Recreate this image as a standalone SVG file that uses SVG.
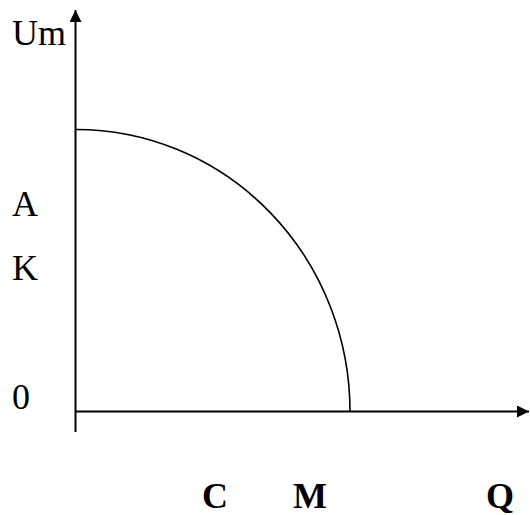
<svg xmlns="http://www.w3.org/2000/svg" width="530" height="515" viewBox="0 0 530 515">
<style>
text{font-family:'Liberation Serif','DejaVu Serif','Times New Roman',serif;font-size:36px;fill:#000}
.b{font-weight:bold}
.ax{stroke:#000;stroke-width:2;fill:none}
</style>
<defs>
<marker id="ah" viewBox="0 0 12 12" refX="12" refY="6" markerWidth="12" markerHeight="12" markerUnits="userSpaceOnUse" orient="auto">
<path d="M0,0 L12,6 L0,12 Z" fill="#000"/>
</marker>
</defs>
<g id="connectors">
<line class="ax" x1="75.5" y1="432" x2="75.5" y2="10" marker-end="url(#ah)"/>
<line class="ax" x1="75" y1="411.5" x2="529" y2="411.5" marker-end="url(#ah)"/>
</g>
<g id="curve">
<path d="M76,129.5 A274 282 0 0 1 350,411.5" fill="none" stroke="#000" stroke-width="1.6"/>
</g>
<g id="labels">
<text x="12" y="45">Um</text>
<text x="12" y="216">A</text>
<text x="12" y="280">K</text>
<text x="12" y="409">0</text>
<text class="b" x="202" y="508">C</text>
<text class="b" x="293" y="508">M</text>
<text class="b" x="486" y="508">Q</text>
</g>
</svg>
